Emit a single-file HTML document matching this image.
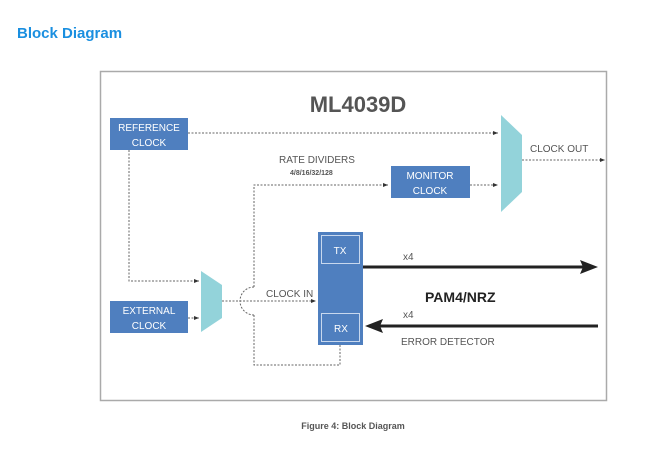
<!DOCTYPE html>
<html><head><style>
body{margin:0;background:#fff;width:651px;height:451px;overflow:hidden}
text{font-family:"Liberation Sans",sans-serif}
</style></head><body>
<svg width="651" height="451" xmlns="http://www.w3.org/2000/svg">
<defs>
<marker id="a" viewBox="0 0 10 10" refX="10" refY="5" markerWidth="5" markerHeight="5" orient="auto"><path d="M0,1 L10,5 L0,9z" fill="#333"/></marker>
</defs>
<text x="17" y="38" font-size="15" font-weight="bold" fill="#1a8fe0">Block Diagram</text>
<rect x="100.5" y="71.5" width="506" height="329" fill="#fff" stroke="#aaa" stroke-width="1.5"/>
<text x="358" y="112" font-size="22" font-weight="bold" fill="#555" text-anchor="middle">ML4039D</text>
<g stroke="#666" stroke-width="1" stroke-dasharray="2,1.5" fill="none">
<path d="M188,133 H498" marker-end="url(#a)"/>
<path d="M129,150 V281 H199" marker-end="url(#a)"/>
<path d="M188,318 H199" marker-end="url(#a)"/>
<path d="M254,287 A14,14 0 0 0 254,315"/>
<path d="M222,301 H316" marker-end="url(#a)"/>
<path d="M254,287 V185 H388" marker-end="url(#a)"/>
<path d="M254,315 V365 H340 V345"/>
<path d="M470,185 H498" marker-end="url(#a)"/>
<path d="M522,160 H605" marker-end="url(#a)"/>
</g>
<rect x="110" y="118" width="78" height="32" fill="#4f7fbf"/>
<text x="149" y="131" font-size="10" fill="#fff" text-anchor="middle">REFERENCE</text>
<text x="149" y="146" font-size="10" fill="#fff" text-anchor="middle">CLOCK</text>
<rect x="110" y="301" width="78" height="32" fill="#4f7fbf"/>
<text x="149" y="314" font-size="10" fill="#fff" text-anchor="middle">EXTERNAL</text>
<text x="149" y="329" font-size="10" fill="#fff" text-anchor="middle">CLOCK</text>
<rect x="391" y="166" width="79" height="32" fill="#4f7fbf"/>
<text x="430" y="179" font-size="10" fill="#fff" text-anchor="middle">MONITOR</text>
<text x="430" y="194" font-size="10" fill="#fff" text-anchor="middle">CLOCK</text>
<polygon points="201,271 222,285 222,318 201,332" fill="#93d3da"/>
<polygon points="501,115 522,135 522,192 501,212" fill="#93d3da"/>
<rect x="318" y="232" width="45" height="113" fill="#4f7fbf"/>
<rect x="321.5" y="235.5" width="38" height="28" fill="none" stroke="#c8d8ee" stroke-width="1"/>
<rect x="321.5" y="313.5" width="38" height="28" fill="none" stroke="#c8d8ee" stroke-width="1"/>
<text x="340" y="254" font-size="10" fill="#fff" text-anchor="middle">TX</text>
<text x="341" y="332" font-size="10" fill="#fff" text-anchor="middle">RX</text>
<path d="M363,267 H583" stroke="#222" stroke-width="3"/>
<polygon points="598,267 580,260 583,267 580,274" fill="#222"/>
<path d="M380,326 H598" stroke="#222" stroke-width="3"/>
<polygon points="365,326 383,319 380,326 383,333" fill="#222"/>
<g font-size="10" fill="#555">
<text x="279" y="163">RATE DIVIDERS</text>
<text x="290" y="175" font-size="7" font-weight="bold">4/8/16/32/128</text>
<text x="266" y="297">CLOCK IN</text>
<text x="530" y="152">CLOCK OUT</text>
<text x="403" y="260">x4</text>
<text x="403" y="318">x4</text>
<text x="401" y="345">ERROR DETECTOR</text>
</g>
<text x="425" y="302" font-size="14" font-weight="bold" fill="#222">PAM4/NRZ</text>
<text x="353" y="429" font-size="9" font-weight="bold" fill="#555" text-anchor="middle">Figure 4: Block Diagram</text>
</svg>
</body></html>
